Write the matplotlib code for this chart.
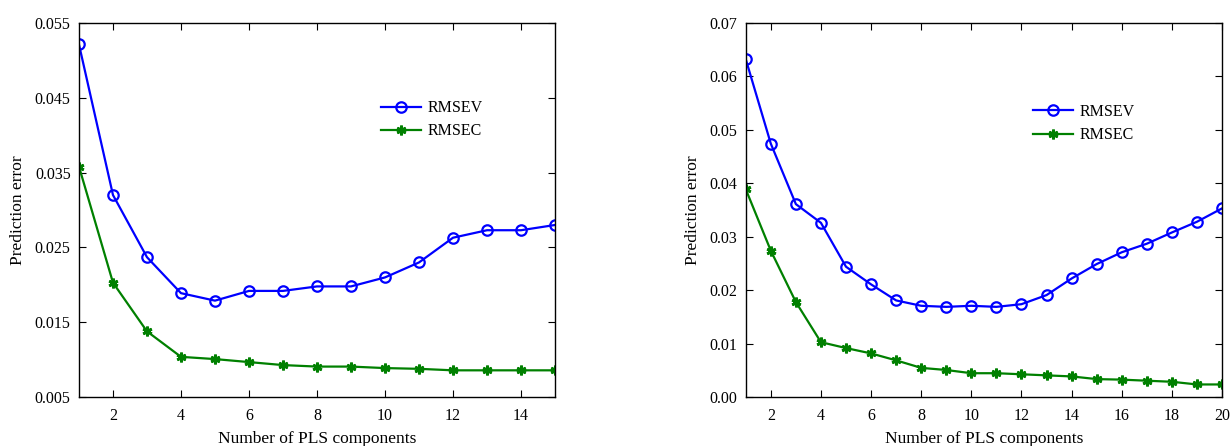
import matplotlib
matplotlib.use("Agg")
import matplotlib.pyplot as plt

# left panel: 15 components
comp_a = list(range(1, 16))
rmsev_a = [0.0521, 0.0320, 0.0237, 0.0189, 0.0179, 0.0192, 0.0192, 0.0198,
           0.0198, 0.0210, 0.0230, 0.0263, 0.0273, 0.0273, 0.0280]
rmsec_a = [0.0358, 0.0203, 0.0138, 0.0104, 0.0101, 0.0097, 0.0093, 0.0091,
           0.0091, 0.0089, 0.0088, 0.0086, 0.0086, 0.0086, 0.0086]

# right panel: 20 components
comp_b = list(range(1, 21))
rmsev_b = [0.0632, 0.0474, 0.0361, 0.0326, 0.0244, 0.0211, 0.0181, 0.0171,
           0.0169, 0.0171, 0.0169, 0.0174, 0.0191, 0.0222, 0.0249, 0.0271,
           0.0287, 0.0308, 0.0328, 0.0353]
rmsec_b = [0.0389, 0.0274, 0.0178, 0.0103, 0.0092, 0.0082, 0.0069, 0.0055,
           0.0051, 0.0045, 0.0045, 0.0043, 0.0041, 0.0039, 0.0034, 0.0033,
           0.0031, 0.0029, 0.0024, 0.0024]

plt.rcParams["font.family"] = ["Liberation Serif", "DejaVu Serif"]

fig = plt.figure(figsize=(12.32, 4.46), dpi=100)
ax1 = fig.add_axes([0.0641, 0.1092, 0.3864, 0.8399])
ax2 = fig.add_axes([0.6053, 0.1092, 0.3866, 0.8399])

star = (6, 2, 0)


def draw(ax, x, v, c, xlim, ylim, yticks, yfmt, xticks, leg_xy):
    ax.plot(x, v, color="#0000FF", lw=1.6, marker="o", ms=7.5,
            mfc="none", mec="#0000FF", mew=1.6, label="RMSEV")
    ax.plot(x, c, color="#008000", lw=1.6, marker=star, ms=7,
            mec="#008000", mew=2.0, label="RMSEC")
    ax.set_xlim(*xlim)
    ax.set_ylim(*ylim)
    ax.set_xticks(xticks)
    ax.set_yticks(yticks)
    ax.set_yticklabels([yfmt.format(t) for t in yticks])
    ax.tick_params(direction="in", top=True, right=True, labelsize=11.5,
                   length=5, width=0.8, pad=6)
    ax.tick_params(axis="x", pad=8)
    for s in ax.spines.values():
        s.set_linewidth(1.0)
    ax.set_xlabel("Number of PLS components", fontsize=12.5, labelpad=5)
    ax.set_ylabel("Prediction error", fontsize=12.5, labelpad=6)
    ax.legend(loc="upper left", bbox_to_anchor=leg_xy, frameon=False,
              fontsize=11.5, handlelength=2.5, handletextpad=0.4,
              labelspacing=0.45, borderaxespad=0)


draw(ax1, comp_a, rmsev_a, rmsec_a, (1, 15), (0.005, 0.055),
     [0.005, 0.015, 0.025, 0.035, 0.045, 0.055], "{:.3f}",
     [2, 4, 6, 8, 10, 12, 14], (0.622, 0.81))
draw(ax2, comp_b, rmsev_b, rmsec_b, (1, 20), (0.0, 0.07),
     [0.0, 0.01, 0.02, 0.03, 0.04, 0.05, 0.06, 0.07], "{:.2f}",
     [2, 4, 6, 8, 10, 12, 14, 16, 18, 20], (0.59, 0.80))

fig.savefig("out.png", dpi=100)
